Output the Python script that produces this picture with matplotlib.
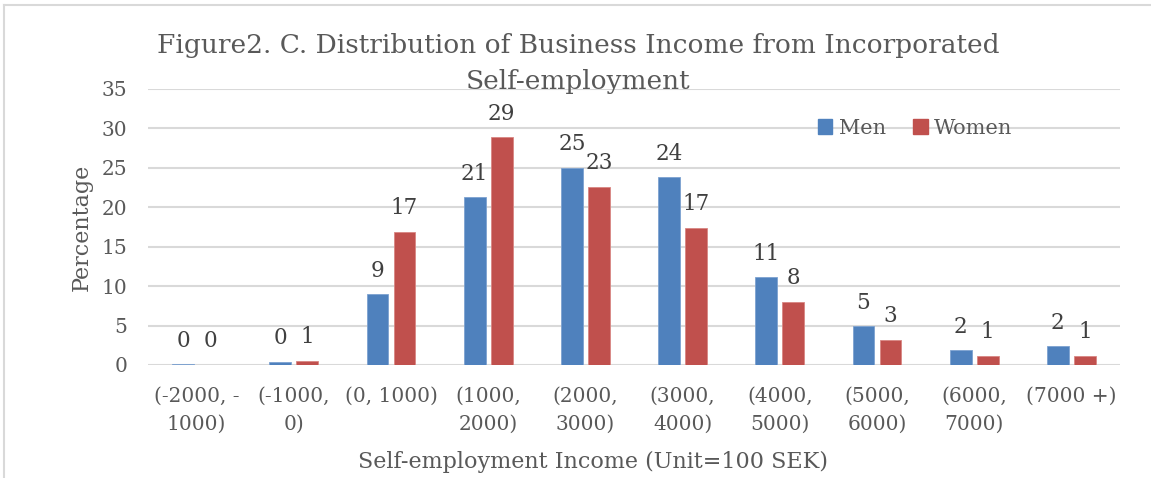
import numpy as np
import matplotlib.pyplot as plt
from matplotlib.lines import Line2D
from matplotlib.patches import Patch

# income brackets and shares (%)
categories = ["(-2000, -\n1000)", "(-1000,\n0)", "(0, 1000)", "(1000,\n2000)", "(2000,\n3000)",
              "(3000,\n4000)", "(4000,\n5000)", "(5000,\n6000)", "(6000,\n7000)", "(7000 +)"]
men = [0.1, 0.4, 9.0, 21.3, 25.0, 23.8, 11.1, 4.9, 1.9, 2.4]
women = [0.05, 0.55, 16.9, 28.9, 22.6, 17.4, 8.0, 3.2, 1.2, 1.2]

BLUE = "#4f81bd"
RED = "#c0504d"
TEXT = "#595959"
GRID = "#d9d9d9"

plt.rcParams['font.family'] = ['DejaVu Serif']
plt.rcParams['text.color'] = TEXT

fig = plt.figure(figsize=(11.51, 4.78), dpi=100)
ax = fig.add_axes([148 / 1151, 1 - 365 / 478, (1120 - 148) / 1151, (365 - 89) / 478])

x = np.arange(len(categories))
w = 0.226
off = 0.139
b1 = ax.bar(x - off, men, w, color=BLUE, edgecolor="#7da2d0", linewidth=0.6, zorder=3)
b2 = ax.bar(x + off, women, w, color=RED, edgecolor="#d98683", linewidth=0.6, zorder=3)

for bars, vals in ((b1, men), (b2, women)):
    for r, v in zip(bars, vals):
        ax.annotate(f"{round(v + 1e-9):d}", (r.get_x() + r.get_width() / 2, v), xytext=(0, 9),
                    textcoords="offset points", ha="center", va="bottom",
                    fontsize=15.5, color="#404040")

ax.set_xlim(-0.5, len(categories) - 0.5)
ax.set_ylim(0, 35)
ax.set_yticks(range(0, 36, 5))
ax.set_xticks(x)
ax.set_xticklabels(categories, linespacing=1.55)
ax.tick_params(axis="both", length=0, labelsize=14.5, labelcolor=TEXT)
ax.tick_params(axis="y", pad=15)
ax.tick_params(axis="x", pad=16)
ax.grid(axis="y", color=GRID, linewidth=1.5, zorder=0)
for s in ax.spines.values():
    s.set_visible(False)

ax.set_ylabel("Percentage", fontsize=16, color=TEXT, labelpad=6)
fig.text(593 / 1151, 1 - 462 / 478, "Self-employment Income (Unit=100 SEK)",
         ha="center", va="center", fontsize=16, color=TEXT)

fig.text(0.502, 1 - 63.5 / 478, "Figure2. C. Distribution of Business Income from Incorporated\nSelf-employment",
         ha="center", va="center", fontsize=19, color=TEXT, linespacing=1.55)

handles = [Patch(color=BLUE, label="Men"), Patch(color=RED, label="Women")]
fig.legend(handles=handles, loc="center", bbox_to_anchor=(915 / 1151, 1 - 128 / 478), ncol=2,
           frameon=False, fontsize=15, handlelength=0.7, handleheight=0.7,
           handletextpad=0.3, columnspacing=1.3)

# outer chart frame
fig.add_artist(Line2D([4 / 1151, 1], [1 - 5 / 478, 1 - 5 / 478], color=GRID, linewidth=1.5))
fig.add_artist(Line2D([4 / 1151, 4 / 1151], [0, 1 - 5 / 478], color=GRID, linewidth=1.5))

fig.savefig("out.png", dpi=100)
